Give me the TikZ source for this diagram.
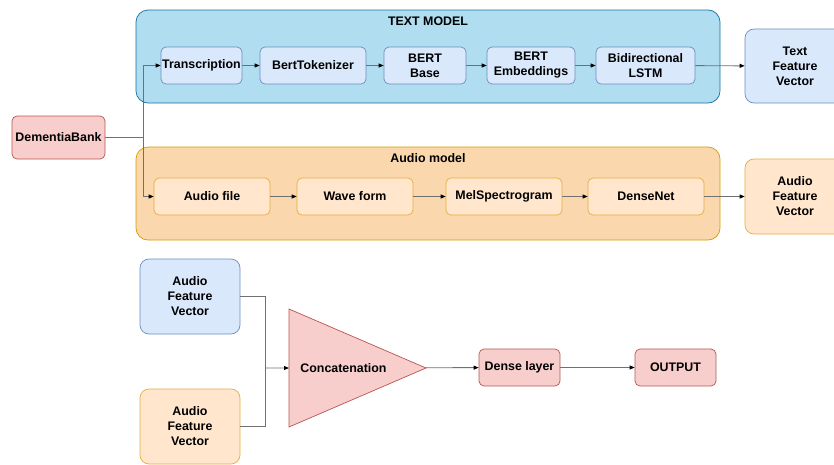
\documentclass[tikz,border=0pt]{standalone}
\usepackage{fontspec}
\setmainfont{Liberation Sans}
\usetikzlibrary{arrows.meta,shapes.geometric}
\definecolor{txtfill}{HTML}{B1DDF0}
\definecolor{txtline}{HTML}{10739E}
\definecolor{audfill}{HTML}{FAD7AC}
\definecolor{audline}{HTML}{D79B00}
\definecolor{bluefill}{HTML}{DAE8FC}
\definecolor{blueline}{HTML}{6C8EBF}
\definecolor{orfill}{HTML}{FFE6CC}
\definecolor{orline}{HTML}{E6AE3C}
\definecolor{redfill}{HTML}{F8CECC}
\definecolor{redline}{HTML}{B85450}
\definecolor{wirecol}{HTML}{707070}

\begin{document}
\begin{tikzpicture}[x=1pt, y=-1pt, font=\fontsize{12.4}{15}\selectfont\bfseries,
  blk/.style={draw, rounded corners=5pt, align=center, inner sep=1pt, line width=0.7pt, minimum height=37pt},
  bluebox/.style={blk, fill=bluefill, draw=blueline},
  orbox/.style={blk, fill=orfill, draw=orline},
  redbox/.style={blk, fill=redfill, draw=redline},
  wire/.style={draw=wirecol, line width=0.9pt},
  arr/.style={wire, -{Triangle[length=5pt, width=4pt, black]}}]
\useasboundingbox (0,0) rectangle (834,464);
%\draw[help lines, color=gray!30, dashed] (0,0) grid[step=50] (834,464);
% containers
\draw[fill=txtfill, draw=txtline, line width=0.7pt, rounded corners=12pt] (136,10) rectangle (720,103);
\node (txttitle) at (428,21) {TEXT MODEL};
\draw[fill=audfill, draw=audline, line width=0.7pt, rounded corners=12pt] (136,147) rectangle (720,240);
\node (audtitle) at (428,158) {Audio model};
% source
\node[redbox, minimum width=93pt, minimum height=43pt] (dem) at (58.5,137.5) {DementiaBank};
% text model
\node[bluebox, minimum width=81pt] (trans) at (201.5,65.5) {Transcription};
\node[bluebox, minimum width=106pt] (tok) at (313,65.5) {BertTokenizer};
\node[bluebox, minimum width=82pt] (bbase) at (425,65.5) {BERT\\Base};
\node[bluebox, minimum width=88pt] (bemb) at (531,65.5) {BERT\\Embeddings};
\node[bluebox, minimum width=99pt] (lstm) at (645.5,65.5) {Bidirectional\\LSTM};
\node[bluebox, rounded corners=9pt, minimum width=100pt, minimum height=74pt] (tfv) at (795,66) {Text\\Feature\\Vector};
% audio model
\node[orbox, minimum width=116pt] (afile) at (212,196.5) {Audio file};
\node[orbox, minimum width=116pt] (wave) at (355,196.5) {Wave form};
\node[orbox, minimum width=116pt] (mel) at (504,196.5) {MelSpectrogram};
\node[orbox, minimum width=116pt] (dnet) at (646,196.5) {DenseNet};
\node[orbox, rounded corners=9pt, minimum width=100pt, minimum height=75pt] (afv) at (795,196.5) {Audio\\Feature\\Vector};
% fusion
\node[bluebox, rounded corners=9pt, minimum width=100pt, minimum height=75pt] (afvb) at (190,296.5) {Audio\\Feature\\Vector};
\node[orbox, rounded corners=9pt, minimum width=100pt, minimum height=75pt] (afvo) at (190,426.5) {Audio\\Feature\\Vector};
\node[draw=redline, fill=redfill, line width=0.7pt, isosceles triangle, isosceles triangle stretches,
  minimum width=118pt, minimum height=137pt, inner sep=0pt, outer sep=0pt, anchor=apex] (concat) at (426,368) {Concatenation};
\node[redbox, minimum width=81pt] (dense) at (519.5,367.5) {Dense layer};
\node[redbox, minimum width=81pt] (out) at (675.5,367.5) {OUTPUT};
% connectors
\coordinate (split) at (143,137.5);
\coordinate (join) at (265,368);
\draw[wire] (dem) -- (split);
\draw[arr] (split) |- (trans);
\draw[arr] (split) |- (afile);
\draw[arr] (trans) -- (tok);
\draw[arr] (tok) -- (bbase);
\draw[arr] (bbase) -- (bemb);
\draw[arr] (bemb) -- (lstm);
\draw[arr] (lstm) -- (tfv);
\draw[arr] (afile) -- (wave);
\draw[arr] (wave) -- (mel);
\draw[arr] (mel) -- (dnet);
\draw[arr] (dnet) -- (afv);
\draw[wire] (afvb) -| (join);
\draw[wire] (afvo) -| (join);
\draw[arr] (join) -- (concat);
\draw[arr] (concat) -- (dense);
\draw[arr] (dense) -- (out);
\end{tikzpicture}
\end{document}
